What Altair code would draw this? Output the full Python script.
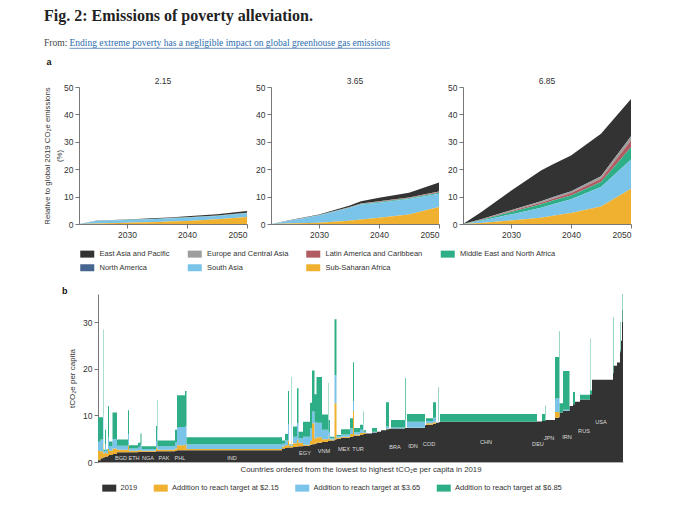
import altair as alt
import pandas as pd

# ---------------- panel a : regional emissions (% of global 2019 CO2e) ----------------
years = [2022, 2025, 2030, 2035, 2037, 2040, 2045, 2050]
regions = ["East Asia and Pacific", "Europe and Central Asia", "Latin America and Caribbean",
           "Middle East and North Africa", "North America", "South Asia", "Sub-Saharan Africa"]
region_colors = ["#333333", "#9d9d9d", "#b15c62", "#2eae87", "#46668f", "#7ac4ea", "#efb12f"]
stack_rank = [6, 4, 3, 2, 5, 1, 0]
scenarios = ["2.15", "3.65", "6.85"]

eap_215 = [0, 0.05, 0.10, 0.20, 0.25, 0.40, 0.50, 0.60]
eca_215 = [0, 0.01, 0.02, 0.02, 0.03, 0.03, 0.03, 0.04]
lac_215 = [0, 0.02, 0.03, 0.04, 0.04, 0.05, 0.06, 0.07]
mena_215 = [0, 0.02, 0.03, 0.04, 0.04, 0.05, 0.06, 0.08]
na_215 = [0, 0, 0, 0, 0, 0, 0, 0.01]
sa_215 = [0, 1.00, 1.05, 1.10, 1.15, 1.20, 1.25, 1.30]
ssa_215 = [0, 0.15, 0.45, 0.75, 0.90, 1.10, 1.70, 2.60]

eap_365 = [0, 0.10, 0.25, 0.60, 0.80, 1.30, 1.70, 3.30]
eca_365 = [0, 0.01, 0.03, 0.05, 0.06, 0.08, 0.10, 0.15]
lac_365 = [0, 0.02, 0.05, 0.10, 0.12, 0.15, 0.20, 0.30]
mena_365 = [0, 0.03, 0.08, 0.15, 0.20, 0.25, 0.30, 0.40]
na_365 = [0, 0, 0, 0, 0, 0, 0, 0.01]
sa_365 = [0, 1.00, 2.60, 4.60, 5.50, 5.50, 5.60, 4.80]
ssa_365 = [0, 0.20, 0.50, 1.20, 1.60, 2.30, 3.50, 6.20]

eap_685 = [0, 2.60, 7.10, 11.20, 12.00, 13.10, 15.50, 13.60]
eca_685 = [0, 0.10, 0.30, 0.50, 0.55, 0.60, 0.90, 1.50]
lac_685 = [0, 0.10, 0.30, 0.60, 0.70, 0.90, 1.20, 2.50]
mena_685 = [0, 0.30, 0.90, 1.30, 1.35, 1.40, 1.80, 4.50]
na_685 = [0, 0, 0.01, 0.01, 0.01, 0.02, 0.02, 0.03]
sa_685 = [0, 0.80, 2.20, 3.60, 4.20, 5.00, 7.10, 10.60]
ssa_685 = [0, 0.40, 1.30, 2.30, 3.00, 4.00, 6.40, 12.90]

series_a = {
    "2.15": [eap_215, eca_215, lac_215, mena_215, na_215, sa_215, ssa_215],
    "3.65": [eap_365, eca_365, lac_365, mena_365, na_365, sa_365, ssa_365],
    "6.85": [eap_685, eca_685, lac_685, mena_685, na_685, sa_685, ssa_685],
}
rows_a = []
for scn, lists in series_a.items():
    for reg, rank, vals in zip(regions, stack_rank, lists):
        for yr, v in zip(years, vals):
            rows_a.append({"scenario": scn, "region": reg, "rank": rank, "year": yr, "value": v})
dfa = pd.DataFrame(rows_a)

# ---------------- panel b : countries ordered by 2019 per-capita emissions ----------------
# width = population (units of ~15 million people), values in tCO2e per capita
seg_w = [2.5, 2.5, 0.4, 1.6, 1.0, 2.0, 1.0, 3.5, 4.5, 11, 1, 9, 2.5, 1, 14.5, 1, 0.4, 17.6, 2, 8, 1.5, 95.5,
         3, 3, 1, 2, 0.4, 1.6, 4, 1.5, 4.5, 7, 2, 2.5, 2, 5.5, 6, 0.4, 1.6, 4.5, 2, 4.5, 9, 3, 1, 6, 3, 0.5,
         2.5, 6, 5, 4, 5, 3, 2, 14, 0.7, 1.3, 18, 1, 7, 3, 2, 0.5, 1.5, 97, 5, 3, 0.5, 9.5, 4, 0.5, 3.5,
         6.5, 3.5, 2, 5, 10, 0.4, 1.6, 21, 0.5, 3.5, 3, 0.5, 0.5, 1, 0.5, 0.5]
seg_base = [0.4, 0.8, 0.9, 1.0, 1.1, 1.2, 1.3, 1.5, 1.7, 2.1, 2.1, 2.1, 2.2, 2.2, 2.2, 2.3, 2.3, 2.3, 2.4, 2.5, 2.5, 2.5,
            2.9, 3.0, 3.1, 3.1, 3.1, 3.1, 3.2, 3.3, 3.4, 3.5, 3.7, 3.8, 3.9, 4.1, 4.3, 4.5, 4.5, 4.6, 4.8, 5.0, 5.2, 5.4, 5.5, 5.6, 5.8, 5.9,
            6.0, 6.1, 6.3, 6.5, 6.8, 7.0, 7.1, 7.2, 7.3, 7.3, 7.3, 7.9, 8.0, 8.2, 8.4, 8.4, 8.5, 8.6, 8.7, 8.8, 8.9, 9.0, 9.5, 9.6, 10.6,
            11.0, 12.0, 12.4, 12.9, 13.4, 14.5, 14.5, 17.6, 19.0, 20.6, 21.3, 23.5, 24.0, 26.0, 30.0, 32.5]
seg_a215 = [2.0, 1.5, 3.0, 0.8, 1.0, 0.7, 1.5, 0.9, 1.2, 0.5, 1.5, 0.3, 0.3, 0.4, 0.2, 0.7, 1.5, 0.3, 0.5, 1.1, 1.2, 0.3,
            0.4, 0.6, 1.5, 0.4, 1.5, 0.4, 0.8, 1.5, 0.7, 0.2, 0.8, 4.5, 1.2, 1.2, 0.6, 1.5, 0.5, 0.2, 7.8, 0.2, 0.2, 0.6, 5.5, 0.3, 0.4, 0.8,
            0.2, 0, 0, 0, 0, 0.1, 0, 0, 0.2, 0, 0.05, 0, 0.3, 0.3, 0, 0, 0, 0, 0, 0, 0, 0, 1.2, 1.0, 0,
            0, 0, 0, 0, 0, 0, 0, 0, 0, 0, 0, 0, 0, 0, 0, 0]
seg_a365 = [2.0, 2.5, 6.0, 0.5, 1.7, 0.5, 2.5, 1.0, 2.0, 0.9, 2.4, 0.5, 0.7, 1.2, 0.4, 1.5, 3.0, 0.8, 1.3, 3.9, 4.0, 1.0,
            0.6, 1.0, 3.5, 0.2, 3.5, 0.2, 1.4, 3.5, 1.0, 1.7, 2.7, 2.5, 3.4, 3.1, 2.0, 3.0, 1.5, 0.3, 6.0, 0.3, 0.5, 1.2, 2.0, 0.5, 0.7, 1.6,
            0.3, 0, 0.2, 0, 0, 0.5, 0, 0.2, 1.5, 0, 1.3, 0, 0.5, 1.0, 0, 0.5, 0, 0, 0, 0, 0.2, 0, 2.9, 3.0, 0,
            0.2, 0, 0, 0, 0, 0, 0, 0, 0, 0, 0, 0, 0, 0, 0, 0]
seg_a685 = [5.2, 4.8, 18.5, 0.3, 3.1, 0.3, 6.7, 1.0, 5.7, 1.3, 5.1, 0.7, 0.9, 2.3, 0.6, 3.2, 6.5, 1.2, 2.7, 6.8, 7.5, 1.5,
            0.7, 1.4, 7.1, 0.1, 10.1, 0.1, 2.2, 7.5, 1.4, 3.2, 5.5, 8.8, 6.0, 9.8, 3.3, 8.0, 2.5, 0.3, 12.0, 0.3, 1.1, 2.2, 8.4, 0.9, 1.1, 2.5,
            0.3, 0, 0.8, 0, 0, 5.2, 0, 1.6, 9.0, 0, 1.65, 0, 0.6, 3.3, 0, 7.1, 0, 1.7, 0, 1.5, 3.0, 0, 8.9, 14.4, 2.0,
            8.3, 0, 2.6, 0, 1.0, 12.0, 0.8, 0, 12.0, 0, 0, 6.5, 0, 0, 6.0, 0]

comp_names = ["2019", "Addition to reach target at $2.15", "Addition to reach target at $3.65",
              "Addition to reach target at $6.85"]
comp_colors = ["#333333", "#efb12f", "#7ac4ea", "#2eae87"]

lab_names = ["BGD", "ETH", "NGA", "PAK", "PHL", "IND", "EGY", "VNM", "MEX", "TUR", "BRA", "IDN", "COD",
             "CHN", "DEU", "JPN", "IRN", "RUS", "USA"]
lab_x = [23, 36, 50, 66, 82, 134, 207, 226, 246, 260, 297, 315, 331, 388, 440, 451, 469, 486, 503]
lab_y = [0.8, 0.8, 0.8, 0.8, 0.9, 0.8, 2.0, 2.4, 2.8, 2.8, 3.2, 3.4, 3.8, 4.2, 3.8, 5.1, 5.4, 6.6, 8.6]

seg = pd.DataFrame({"w": seg_w, "base": seg_base, "a215": seg_a215, "a365": seg_a365, "a685": seg_a685})
seg["x0"] = seg["w"].cumsum() - seg["w"]
total = float(seg["w"].sum())
lv0 = seg["base"] * 0
lv1 = seg["base"]
lv2 = lv1 + seg["a215"]
lv3 = lv2 + seg["a365"]
lv4 = lv3 + seg["a685"]
levels = [lv0, lv1, lv2, lv3, lv4]
rows_b = []
for k, name in enumerate(comp_names):
    lo, hi = levels[k], levels[k + 1]
    for i in range(len(seg)):
        rows_b.append({"x": float(seg["x0"][i]), "bottom": float(lo[i]), "top": float(hi[i]), "component": name})
    rows_b.append({"x": total, "bottom": float(lo.iloc[-1]), "top": float(hi.iloc[-1]), "component": name})
dfb = pd.DataFrame(rows_b)
dfl = pd.DataFrame({"name": lab_names, "x": lab_x, "y": lab_y})

SANS = "Liberation Sans"
SERIF = "Liberation Serif"
INK = "#333333"

# ---------------- header ----------------
hdr = pd.DataFrame({"k": [0]})
h_title = alt.Chart(hdr).mark_text(text="Fig. 2: Emissions of poverty alleviation.", font=SERIF, fontWeight="bold",
                                   fontSize=16, align="left", baseline="alphabetic", color="#222222").encode(
    x=alt.value(-35), y=alt.value(13))
h_from = alt.Chart(hdr).mark_text(text="From:", font=SERIF, fontSize=9.6, align="left", baseline="alphabetic",
                                  color="#444444").encode(x=alt.value(-35), y=alt.value(38))
h_link = alt.Chart(hdr).mark_text(text="Ending extreme poverty has a negligible impact on global greenhouse gas emissions",
                                  font=SERIF, fontSize=9.5, align="left", baseline="alphabetic",
                                  color="#2b6cad").encode(x=alt.value(-9.5), y=alt.value(38))
h_line = alt.Chart(hdr).mark_rule(color="#2b6cad", strokeWidth=0.7).encode(
    x=alt.value(-9.5), x2=alt.value(311), y=alt.value(40.3))
h_a = alt.Chart(hdr).mark_text(text="a", font=SANS, fontWeight="bold", fontSize=9, align="left",
                               baseline="alphabetic", color="#111111").encode(x=alt.value(-32.5), y=alt.value(57))
header = alt.layer(h_title, h_from, h_link, h_line, h_a).properties(width=552, height=79)

# ---------------- row a ----------------
legend_a = alt.Legend(orient="none", legendX=4.5, legendY=163, columns=4, direction="horizontal",
                      columnPadding=16.5, rowPadding=5,
                      symbolType="M-2,-1H2V1H-2Z", symbolSize=49, symbolStrokeWidth=0, labelOffset=8.5,
                      labelFont=SANS, labelFontSize=7.5, labelColor=INK, title=None)


def area_panel(scn, first):
    if first:
        yax = alt.Axis(values=[0, 10, 20, 30, 40, 50], title=["Relative to global 2019 CO\u2082e emissions", "(%)"],
                       titlePadding=0, titleLineHeight=12, titleFontSize=7.8)
    else:
        yax = alt.Axis(values=[0, 10, 20, 30, 40, 50], title=None)
    return alt.Chart(dfa[dfa["scenario"] == scn]).mark_area().encode(
        x=alt.X("year:Q", scale=alt.Scale(domain=[2022, 2050], nice=False, zero=False),
                axis=alt.Axis(values=[2030, 2040, 2050], format="d", title=None)),
        y=alt.Y("value:Q", stack="zero", scale=alt.Scale(domain=[0, 50], nice=False), axis=yax),
        color=alt.Color("region:N", scale=alt.Scale(domain=regions, range=region_colors), legend=legend_a),
        order=alt.Order("rank:Q"),
    ).properties(width=168, height=137,
                 title=alt.TitleParams(scn, font=SANS, fontSize=8.5, fontWeight="normal", color=INK,
                                       offset=-2, frame="group"))


row_a = alt.hconcat(area_panel("2.15", True), area_panel("3.65", False), area_panel("6.85", False),
                    spacing=24, bounds="flush")

gap = alt.Chart(hdr).mark_text(text="").encode(x=alt.value(0), y=alt.value(0)).properties(width=552, height=207)

# ---------------- row b ----------------
legend_b = alt.Legend(orient="none", legendX=26.5, legendY=190, columns=4, direction="horizontal",
                      columnPadding=15.5,
                      symbolType="M-2,-1H2V1H-2Z", symbolSize=49, symbolStrokeWidth=0, labelOffset=7.5,
                      labelFont=SANS, labelFontSize=7.5, labelColor=INK, title=None)

bands = alt.Chart(dfb).mark_area(interpolate="step-after").encode(
    x=alt.X("x:Q", scale=alt.Scale(domain=[0, total], nice=False, zero=True),
            axis=alt.Axis(labels=False, ticks=False, domainColor="#9a9a9a",
                          title="Countries ordered from the lowest to highest tCO\u2082e per capita in 2019",
                          titlePadding=3, titleFontSize=7.8)),
    y=alt.Y("top:Q", scale=alt.Scale(domain=[0, 36], nice=False),
            axis=alt.Axis(values=[0, 10, 20, 30], title="tCO\u2082e per capita", titlePadding=6.5, titleFontSize=8)),
    y2="bottom:Q",
    color=alt.Color("component:N", scale=alt.Scale(domain=comp_names, range=comp_colors), legend=legend_b),
)
labels = alt.Chart(dfl).mark_text(font=SANS, fontSize=5.6, color="#dcdcdc", baseline="middle").encode(
    x="x:Q", y="y:Q", text="name:N")
panel_b = alt.layer(bands, labels).properties(width=525, height=168)

spacer = alt.Chart(hdr).mark_text(text="b", font=SANS, fontWeight="bold", fontSize=9, align="left",
                                  baseline="alphabetic", color="#111111").encode(
    x=alt.value(-17), y=alt.value(0)).properties(width=19, height=168)
row_b = alt.hconcat(spacer, panel_b, spacing=0, bounds="flush")

chart = alt.vconcat(header, row_a, gap, row_b, spacing=0, bounds="flush").resolve_scale(
    color="independent"
).properties(
    padding={"left": 35, "top": 0, "right": 4, "bottom": 4}
).configure(font=SANS).configure_view(strokeWidth=0).configure_axis(
    labelFont=SANS, titleFont=SANS, labelFontSize=8.5, labelColor=INK, titleColor=INK,
    titleFontWeight="normal", domainColor="#555555", tickColor="#555555", tickSize=4, labelPadding=2,
    grid=False, domainWidth=0.8, tickWidth=0.8
)

chart.save("out.html", embed_options={"renderer": "svg", "actions": False})
